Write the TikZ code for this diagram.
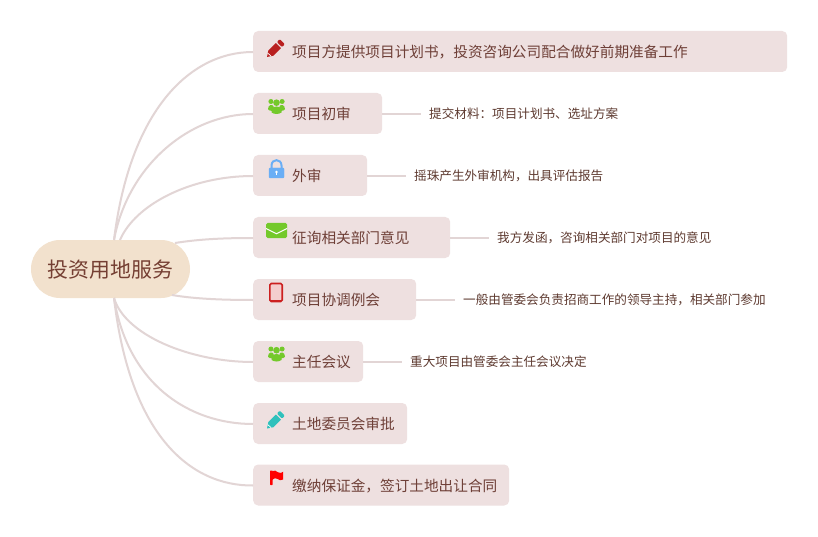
\documentclass[tikz,border=0pt]{standalone}
\usepackage{fontspec}
\setmainfont{Noto Sans CJK SC}
\definecolor{boxfill}{HTML}{EEE0E0}
\definecolor{linkc}{HTML}{E2D5D5}
\definecolor{rootfill}{HTML}{F2E1CD}
\definecolor{itemtext}{HTML}{6E3F37}
\definecolor{roottext}{HTML}{753F33}
\definecolor{detailtext}{HTML}{5E3A30}
\definecolor{pencilred}{HTML}{B91F1F}
\definecolor{pencilteal}{HTML}{2FC1BC}
\definecolor{leaf}{HTML}{74C92B}
\definecolor{lockblue}{HTML}{6AAEF5}
\definecolor{tabred}{HTML}{CC2020}
\tikzset{
  x=1pt,y=-1pt,
  itembox/.style={fill=boxfill,rounded corners=5pt,anchor=west,inner xsep=0pt,inner ysep=0pt,
    minimum height=41pt,align=left,text=itemtext,font=\fontsize{14.65pt}{18pt}\selectfont,
    text height=14pt,text depth=2pt,
    execute at begin node={\hspace*{39pt}}},
  detailbox/.style={anchor=west,inner xsep=8pt,inner ysep=0pt,text=detailtext,font=\fontsize{12.6pt}{15pt}\selectfont,
    text height=13pt,text depth=2.4pt},
  rootbox/.style={fill=rootfill,rounded corners=28.9pt,minimum width=159pt,minimum height=58pt,inner sep=0pt,
    text=roottext,font=\fontsize{20.9pt}{25pt}\selectfont,text height=20pt,text depth=3pt},
  link/.style={draw=linkc,line width=2pt},
  pencilicon/.pic={
    \fill[pic actions] (0,0) -- (1.4,-7) -- (9.9,-15.5) -- (15.5,-9.9) -- (7,-1.4) -- cycle;
    \fill[pic actions,rounded corners=1pt] (11,-16.6) -- (14.2,-19.8) -- (19.8,-14.2) -- (16.6,-11) -- cycle;
    \draw[white,line width=.7pt] (0.8,-4.4) -- (4.6,-0.8);
  },
  peopleicon/.pic={
    \fill[pic actions] (0,-3.8) circle (3.3);
    \fill[pic actions] (-5.6,-5) circle (2.5);
    \fill[pic actions] (5.6,-5) circle (2.5);
    \fill[pic actions] (-8.5,2.6) .. controls (-8.5,-2.4) and (-3.5,-2.4) .. (-3,0) -- (-3,4.5) .. controls (-6,4.5) and (-8.5,4) .. (-8.5,2.6) -- cycle;
    \fill[pic actions] (8.5,2.6) .. controls (8.5,-2.4) and (3.5,-2.4) .. (3,0) -- (3,4.5) .. controls (6,4.5) and (8.5,4) .. (8.5,2.6) -- cycle;
    \fill[pic actions] (-5,3.4) .. controls (-5,-1.2) and (5,-1.2) .. (5,3.4) -- (5,6) .. controls (2,8) and (-2,8) .. (-5,6) -- cycle;
  },
  lockicon/.pic={
    \draw[pic actions,fill=none,line width=2pt] (-5,0) -- (-5,-3.5) .. controls (-5,-10.6) and (5,-10.6) .. (5,-3.5) -- (5,0);
    \fill[pic actions,rounded corners=1pt] (-7.5,-1) rectangle (7.5,9);
    \fill[white] (0,3) circle (1.4);
    \fill[white] (-.7,3) rectangle (.7,6.5);
  },
  mailicon/.pic={
    \fill[pic actions,rounded corners=1.5pt] (-10.5,-7.5) rectangle (10.5,7.5);
    \draw[white,line width=1pt] (-10.5,-2) -- (0,3.2) -- (10.5,-2);
  },
  tableticon/.pic={
    \fill[fill=tabred!22!white] (-6,-8.5) rectangle (6,7);
    \draw[tabred,line width=1.6pt,rounded corners=1.5pt] (-6.2,-9) rectangle (6.2,9);
    \draw[tabred,line width=1.4pt] (-6,7.8) -- (6,7.8);
  },
  flagicon/.pic={
    \fill[red,rounded corners=.6pt] (0,0) rectangle (2.6,14.5);
    \fill[red] (2,.8) .. controls (4.5,-1) and (6,.5) .. (8,1.8) .. controls (10,3) and (12,2.5) .. (13.2,1.2) -- (13.2,9) .. controls (11,10.5) and (9,9.6) .. (7.5,8.4) .. controls (6,7.2) and (4,7.4) .. (2,9.5) -- cycle;
  }
}
\begin{document}
\begin{tikzpicture}
\useasboundingbox[fill=white] (0,0) rectangle (818,537);

\node[rootbox] (root) at (110.5,269) {投资用地服务};

\node[itembox,text width=534pt] (n1) at (253,51.5) {项目方提供项目计划书，投资咨询公司配合做好前期准备工作};
\node[itembox,text width=129pt] (n2) at (253,113.5) {项目初审};
\node[itembox,text width=114pt] (n3) at (253,175.5) {外审};
\node[itembox,text width=197pt] (n4) at (253,237.5) {征询相关部门意见};
\node[itembox,text width=163pt] (n5) at (253,299.5) {项目协调例会};
\node[itembox,text width=110pt] (n6) at (253,361.5) {主任会议};
\node[itembox,text width=154pt] (n7) at (253,423.5) {土地委员会审批};
\node[itembox,text width=256pt] (n8) at (253,485) {缴纳保证金，签订土地出让合同};

\node[detailbox] (d2) at (421,113.5) {提交材料：项目计划书、选址方案};
\node[detailbox] (d3) at (406,175.5) {摇珠产生外审机构，出具评估报告};
\node[detailbox] (d4) at (489,237.5) {我方发函，咨询相关部门对项目的意见};
\node[detailbox] (d5) at (455,299.5) {一般由管委会负责招商工作的领导主持，相关部门参加};
\node[detailbox] (d6) at (402,361.5) {重大项目由管委会主任会议决定};

\coordinate (ra) at (114,240);
\coordinate (rb) at (120,240);
\coordinate (rc) at (175,243);
\coordinate (rd) at (172,295);
\coordinate (re) at (114,298);

\draw[link] (ra) .. controls (130,110) and (190,52) .. ([yshift=-.5pt]n1.west);
\draw[link] (ra) .. controls (128,165) and (190,114) .. ([yshift=-.5pt]n2.west);
\draw[link] (rb) .. controls (135,205) and (190,176) .. ([yshift=-.5pt]n3.west);
\draw[link] (rc) .. controls (200,239) and (225,238) .. ([yshift=-.5pt]n4.west);
\draw[link] (rd) .. controls (195,299) and (225,300) .. ([yshift=-.5pt]n5.west);
\draw[link] (re) .. controls (125,335) and (190,362) .. ([yshift=-.5pt]n6.west);
\draw[link] (re) .. controls (128,385) and (190,424) .. ([yshift=-.5pt]n7.west);
\draw[link] (re) .. controls (130,435) and (190,486) .. ([yshift=-.5pt]n8.west);

\draw[link] ([yshift=-.5pt]n2.east) -- ([yshift=-.5pt]d2.west);
\draw[link] ([yshift=-.5pt]n3.east) -- ([yshift=-.5pt]d3.west);
\draw[link] ([yshift=-.5pt]n4.east) -- ([yshift=-.5pt]d4.west);
\draw[link] ([yshift=-.5pt]n5.east) -- ([yshift=-.5pt]d5.west);
\draw[link] ([yshift=-.5pt]n6.east) -- ([yshift=-.5pt]d6.west);

\pic[fill=pencilred,scale=.9] at (267,57) {pencilicon};
\pic[fill=leaf] at (276.5,106.5) {peopleicon};
\pic[fill=lockblue,draw=lockblue] at (276.5,169) {lockicon};
\pic[fill=leaf] at (276.5,230.5) {mailicon};
\pic at (276,292.5) {tableticon};
\pic[fill=leaf] at (276.5,354) {peopleicon};
\pic[fill=pencilteal,scale=.9] at (267,428.5) {pencilicon};
\pic at (270,470.5) {flagicon};
\end{tikzpicture}
\end{document}
